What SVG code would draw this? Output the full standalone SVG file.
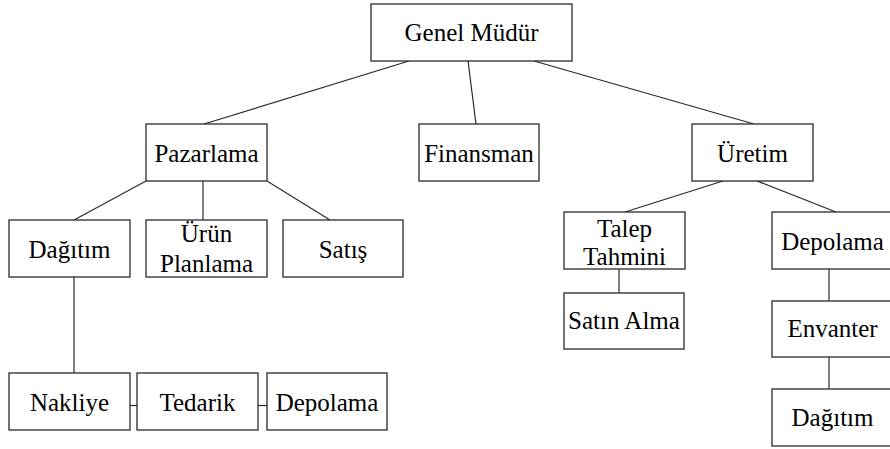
<svg xmlns="http://www.w3.org/2000/svg" width="890" height="449" viewBox="0 0 890 449">
  <style>
    .box { fill: #ffffff; stroke: #2a2a2a; stroke-width: 1.3; }
    .link { stroke: #2a2a2a; stroke-width: 1.2; fill: none; }
  </style>
  <rect width="890" height="449" fill="#ffffff"/>

  <!-- connectors -->
  <g id="connectors">
    <line class="link" x1="409" y1="61" x2="204" y2="124"/>
    <line class="link" x1="468" y1="61" x2="476" y2="124"/>
    <line class="link" x1="534" y1="61" x2="754" y2="124"/>
    <line class="link" x1="146" y1="181" x2="74" y2="220"/>
    <line class="link" x1="203" y1="181" x2="203" y2="220"/>
    <line class="link" x1="267" y1="181" x2="330" y2="220"/>
    <line class="link" x1="74" y1="277" x2="74" y2="373"/>
    <line class="link" x1="130" y1="405.5" x2="137" y2="405.5"/>
    <line class="link" x1="258" y1="405.5" x2="267" y2="405.5"/>
    <line class="link" x1="723" y1="181" x2="625" y2="212"/>
    <line class="link" x1="757" y1="181" x2="836" y2="212"/>
    <line class="link" x1="619" y1="269" x2="619" y2="293"/>
    <line class="link" x1="829" y1="269" x2="829" y2="301"/>
    <line class="link" x1="829" y1="357" x2="829" y2="389"/>
  </g>

  <!-- nodes: every label uses the same serif face, centred in its box -->
  <g id="nodes" font-family="Liberation Serif, Times New Roman, serif" font-size="25" fill="#000000" text-anchor="middle">
    <g id="genel-mudur">
      <rect class="box" x="371" y="4" width="201" height="57"/>
      <text x="471.5" y="41">Genel Müdür</text>
    </g>
    <g id="pazarlama">
      <rect class="box" x="146" y="124" width="121" height="57"/>
      <text x="206.5" y="162">Pazarlama</text>
    </g>
    <g id="finansman">
      <rect class="box" x="419" y="124" width="120" height="57"/>
      <text x="479" y="162">Finansman</text>
    </g>
    <g id="uretim">
      <rect class="box" x="692" y="124" width="121" height="57"/>
      <text x="752.5" y="162">Üretim</text>
    </g>
    <g id="dagitim-1">
      <rect class="box" x="9" y="220" width="121" height="57"/>
      <text x="69.5" y="258">Dağıtım</text>
    </g>
    <g id="urun-planlama">
      <rect class="box" x="146" y="220" width="121" height="57"/>
      <text x="206.5" y="242">Ürün</text>
      <text x="206.5" y="272">Planlama</text>
    </g>
    <g id="satis">
      <rect class="box" x="283" y="220" width="120" height="57"/>
      <text x="343" y="258">Satış</text>
    </g>
    <g id="nakliye">
      <rect class="box" x="9" y="373" width="121" height="57"/>
      <text x="69.5" y="410.5">Nakliye</text>
    </g>
    <g id="tedarik">
      <rect class="box" x="137" y="373" width="121" height="57"/>
      <text x="197.5" y="410.5">Tedarik</text>
    </g>
    <g id="depolama-1">
      <rect class="box" x="267" y="373" width="120" height="57"/>
      <text x="327" y="410.5">Depolama</text>
    </g>
    <g id="talep-tahmini">
      <rect class="box" x="564" y="212" width="121" height="57"/>
      <text x="624.5" y="236.5">Talep</text>
      <text x="624.5" y="265">Tahmini</text>
    </g>
    <g id="satin-alma">
      <rect class="box" x="564" y="293" width="120" height="56"/>
      <text x="624" y="329">Satın Alma</text>
    </g>
    <g id="depolama-2">
      <rect class="box" x="772" y="212" width="121" height="57"/>
      <text x="832.5" y="250">Depolama</text>
    </g>
    <g id="envanter">
      <rect class="box" x="772" y="301" width="121" height="56"/>
      <text x="832.5" y="337">Envanter</text>
    </g>
    <g id="dagitim-2">
      <rect class="box" x="772" y="389" width="121" height="57"/>
      <text x="832.5" y="426">Dağıtım</text>
    </g>
  </g>
</svg>
